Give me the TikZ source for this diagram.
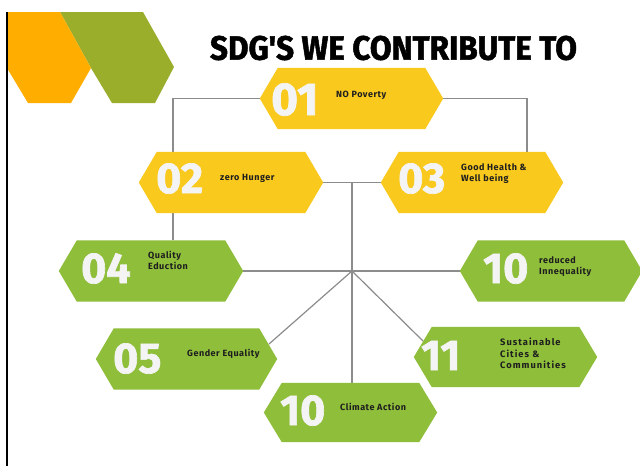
\documentclass[tikz,border=0pt]{standalone}
\usepackage{fontspec}
\setmainfont{Fira Sans}
\newfontfamily\heavyfont{Fira Sans}[UprightFont={* Bold}, UprightFeatures={FakeBold=1.6}]
\newfontfamily\labelfont{Fira Sans}[UprightFont={* Bold}, UprightFeatures={LetterSpace=6}]
\newfontfamily\widelabelfont{Fira Sans}[UprightFont={* Bold}, UprightFeatures={LetterSpace=11}]
\usepackage{graphicx}
\definecolor{ylw}{HTML}{F9C91E}
\definecolor{lime}{HTML}{8FBE3B}
\definecolor{orng}{HTML}{FFAE00}
\definecolor{olive}{HTML}{9BAE2C}
\definecolor{conn}{HTML}{8C8C8C}
\definecolor{ink}{HTML}{1E1E1E}
\definecolor{digit}{HTML}{F4F4F4}
\tikzset{
  hexbox/.style={minimum height=61pt, inner sep=0pt, draw=none},
  num/.style={anchor=base west, inner sep=0pt, text=digit, font=\fontsize{43}{43}\selectfont\heavyfont},
  lbl/.style={anchor=base west, inner sep=0pt, text=ink, font=\fontsize{9}{9}\selectfont\labelfont},
  widelbl/.style={lbl, font=\fontsize{9.3}{9.3}\selectfont\widelabelfont},
  link/.style={draw=conn, line width=1.2pt},
}
\begin{document}
\begin{tikzpicture}[x=1pt,y=-1pt]
\useasboundingbox (0,0) rectangle (640,466);
\fill[white] (0,0) rectangle (640,466);
% decorative corner shapes
\fill[olive] (60,12) -- (143,12) -- (174,67) -- (155,103) -- (112,103) -- (91,68) -- cycle;
\fill[orng] (7,12) -- (60,12) -- (91,68) -- (71,103) -- (28,103) -- (7,68) -- cycle;
\draw[black, line width=1.6pt] (7,12) -- (7,466);
% title
\node[inner sep=0pt] (title) at (393.5,48) {\resizebox{367pt}{24pt}{\heavyfont SDG{\char"0027}S WE CONTRIBUTE TO}};
% hexagon frames
\node[hexbox, minimum width=183pt] (n01) at (351.5,98.5) {};
\node[hexbox, minimum width=184pt] (n02) at (231,182.5) {};
\node[hexbox, minimum width=182pt] (n03) at (472,182.5) {};
\node[hexbox, minimum width=184pt] (n04) at (151,271) {};
\node[hexbox, minimum width=182pt] (n10r) at (551,271) {};
\node[hexbox, minimum width=181pt] (n05) at (186.5,359) {};
\node[hexbox, minimum width=173pt, minimum height=59pt] (n10c) at (350.5,412.5) {};
\node[hexbox, minimum width=183pt, minimum height=60pt] (n11) at (505.5,357) {};
% connector points
\coordinate (a1) at (173,240);
\coordinate (a2) at (527,152);
\coordinate (j) at (352,182.5);
\coordinate (hub) at (352,271);
\coordinate (e05) at (269,344);
\coordinate (e11) at (423,341);
% connectors
\draw[link] (n01.west) -| (a1);
\draw[link] (n01.east) -| (a2);
\draw[link] (n02.east) -- (n03.west);
\draw[link] (j) -- (j |- n10c.north);
\draw[link] (n04.east) -- (n10r.west);
\draw[link] (hub) -- (e05);
\draw[link] (hub) -- (e11);
% hexagon fills
\foreach \n/\c in {n01/ylw, n02/ylw, n03/ylw, n04/lime, n10r/lime, n05/lime, n10c/lime, n11/lime}
  \fill[\c] (\n.west) -- ([xshift=18pt]\n.north west) -- ([xshift=-18pt]\n.north east)
    -- (\n.east) -- ([xshift=-18pt]\n.south east) -- ([xshift=18pt]\n.south west) -- cycle;
% numbers
\node[num, font=\fontsize{46}{46}\selectfont\heavyfont] (d01) at (271,115) {01};
\node[num] (d02) at (156,193) {02};
\node[num] (d03) at (398,193) {03};
\node[num] (d04) at (81,283) {04};
\node[num] (d10r) at (483,283) {10};
\node[num] (d05) at (113,373) {05};
\node[num] (d10c) at (280,425) {10};
\node[num] (d11) at (421,370) {11};
% labels
\node[lbl] (t01) at (336,97) {NO Poverty};
\node[lbl] (t02) at (220,180) {zero Hunger};
\node[lbl] (t03a) at (461,170) {Good Health \&};
\node[lbl] (t03b) at (461,181) {Well being};
\node[lbl] (t04a) at (148,258) {Quality};
\node[lbl] (t04b) at (148,269) {Eduction};
\node[lbl] (t10a) at (539,263) {reduced};
\node[lbl] (t10b) at (539,274) {Innequality};
\node[lbl] (t05) at (187,356) {Gender Equality};
\node[lbl] (t10c) at (340,410) {Climate Action};
\node[widelbl] (t11a) at (500,345) {Sustainable};
\node[widelbl] (t11b) at (500,357) {Cities \&};
\node[widelbl] (t11c) at (500,368) {Communities};
\end{tikzpicture}
\end{document}
